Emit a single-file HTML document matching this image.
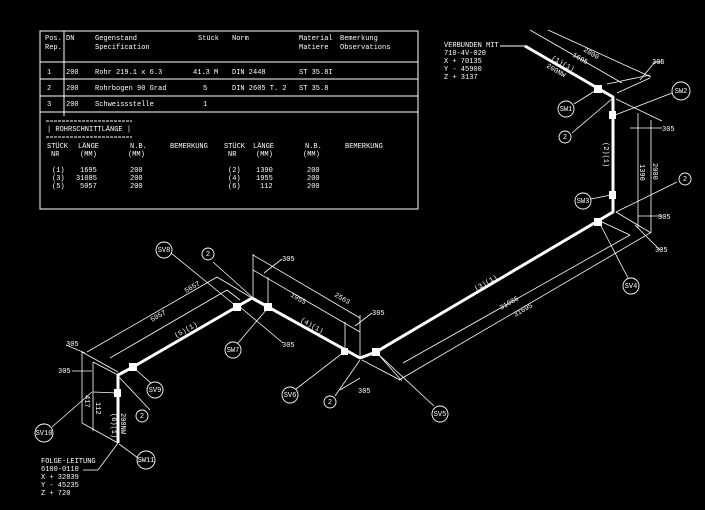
<!DOCTYPE html>
<html><head><meta charset="utf-8"><style>
html,body{margin:0;padding:0;background:#000;width:705px;height:510px;overflow:hidden}
svg{display:block}
text{font-family:"Liberation Mono",monospace;font-size:7px;fill:#fff}
</style></head><body>
<svg width="705" height="510" viewBox="0 0 705 510" xmlns="http://www.w3.org/2000/svg">
<rect width="705" height="510" fill="#000"/>
<g stroke="#fff" fill="none" stroke-width="1">
<rect x="40" y="31" width="378" height="178"/>
<line x1="40" y1="62" x2="418" y2="62"/>
<line x1="40" y1="79" x2="418" y2="79"/>
<line x1="40" y1="96" x2="418" y2="96"/>
<line x1="40" y1="112" x2="418" y2="112"/>
<line x1="64" y1="31" x2="64" y2="116"/>
<line x1="46" y1="121" x2="132" y2="121" stroke-dasharray="3,1"/>
<line x1="46" y1="137" x2="132" y2="137" stroke-dasharray="3,1"/>
</g>
<g>
<text x="45" y="40">Pos.</text><text x="45" y="49">Rep.</text>
<text x="66" y="40">DN</text>
<text x="95" y="40">Gegenstand</text><text x="95" y="49">Specification</text>
<text x="198" y="40">Stück</text>
<text x="232" y="40">Norm</text>
<text x="299" y="40">Material</text><text x="299" y="49">Matiere</text>
<text x="340" y="40">Bemerkung</text><text x="340" y="49">Observations</text>
<text x="47" y="74">1</text><text x="66" y="74">200</text><text x="95" y="74">Rohr 219.1 x 6.3</text><text x="193" y="74">41.3 M</text><text x="232" y="74">DIN 2448</text><text x="299" y="74">ST 35.8I</text>
<text x="47" y="90">2</text><text x="66" y="90">200</text><text x="95" y="90">Rohrbogen 90 Grad</text><text x="203" y="90">5</text><text x="232" y="90">DIN 2605 T. 2</text><text x="299" y="90">ST 35.8</text>
<text x="47" y="106">3</text><text x="66" y="106">200</text><text x="95" y="106">Schweissstelle</text><text x="203" y="106">1</text>
<text x="47" y="131">| ROHRSCHNITTLÄNGE |</text>
<text x="47" y="148">STÜCK</text><text x="51" y="156">NR</text>
<text x="78" y="148">LÄNGE</text><text x="80" y="156">(MM)</text>
<text x="130" y="148">N.B.</text><text x="128" y="156">(MM)</text>
<text x="170" y="148">BEMERKUNG</text>
<text x="224" y="148">STÜCK</text><text x="228" y="156">NR</text>
<text x="253" y="148">LÄNGE</text><text x="256" y="156">(MM)</text>
<text x="305" y="148">N.B.</text><text x="303" y="156">(MM)</text>
<text x="345" y="148">BEMERKUNG</text>
<text x="52" y="172">(1)</text><text x="80" y="172">1695</text><text x="130" y="172">200</text>
<text x="52" y="180">(3)</text><text x="76" y="180">31085</text><text x="130" y="180">200</text>
<text x="52" y="188">(5)</text><text x="80" y="188">5057</text><text x="130" y="188">200</text>
<text x="228" y="172">(2)</text><text x="256" y="172">1390</text><text x="307" y="172">200</text>
<text x="228" y="180">(4)</text><text x="256" y="180">1955</text><text x="307" y="180">200</text>
<text x="228" y="188">(6)</text><text x="260" y="188">112</text><text x="307" y="188">200</text>
</g>

<polyline points="525,46 613,97 613,212 376,352 360,358 252,298 133,367 118,375 118,443" stroke="#fff" stroke-width="3" fill="none" stroke-linejoin="bevel"/>
<g fill="#fff">
<rect x="594" y="85" width="8" height="8"/><rect x="609" y="111" width="7" height="8"/><rect x="609" y="191" width="7" height="8"/>
<rect x="594" y="218" width="8" height="8"/><rect x="372" y="348" width="8" height="8"/><rect x="341" y="348" width="7" height="7"/>
<rect x="264" y="303" width="8" height="8"/><rect x="233" y="303" width="8" height="8"/><rect x="129" y="363" width="8" height="8"/>
<rect x="114" y="389" width="7" height="8"/>
</g>
<line x1="500" y1="46" x2="525" y2="46" stroke="#fff"/>

<g stroke="#fff" stroke-width="0.8" fill="none">
<line x1="548" y1="30" x2="651" y2="77"/><line x1="530" y1="30" x2="622" y2="83"/>
<line x1="607" y1="84" x2="650" y2="75"/><line x1="617" y1="93" x2="650" y2="78"/>
<line x1="640" y1="80" x2="655" y2="62"/><line x1="655" y1="62" x2="662" y2="62"/>
<line x1="616" y1="99" x2="662" y2="121"/><line x1="638" y1="113" x2="638" y2="228"/><line x1="651" y1="120" x2="651" y2="233"/>
<line x1="630" y1="128" x2="662" y2="128"/><line x1="638" y1="216" x2="662" y2="216"/>
<line x1="616" y1="212" x2="651" y2="233"/><line x1="635" y1="225" x2="660" y2="250"/>
<line x1="403" y1="363" x2="630" y2="235"/><line x1="399" y1="380" x2="650" y2="233"/>
<line x1="378" y1="354" x2="402" y2="381"/><line x1="362" y1="360" x2="400" y2="380"/><line x1="602" y1="222" x2="630" y2="235"/>
<line x1="253" y1="254" x2="253" y2="298"/><line x1="268" y1="277" x2="268" y2="306"/>
<line x1="345" y1="322" x2="345" y2="352"/><line x1="360" y1="315" x2="360" y2="358"/>
<line x1="253" y1="255" x2="360" y2="318"/><line x1="253" y1="270" x2="360" y2="332"/>
<line x1="264" y1="273" x2="282" y2="259"/><line x1="355" y1="326" x2="372" y2="313"/>
<line x1="87" y1="352" x2="217" y2="277"/><line x1="110" y1="358" x2="227" y2="290"/>
<line x1="217" y1="277" x2="252" y2="298"/><line x1="227" y1="290" x2="240" y2="300"/>
<line x1="82" y1="352" x2="82" y2="423"/><line x1="93" y1="362" x2="93" y2="431"/>
<line x1="82" y1="352" x2="118" y2="372"/><line x1="93" y1="362" x2="118" y2="375"/>
<line x1="82" y1="423" x2="118" y2="443"/><line x1="93" y1="392" x2="118" y2="393"/>
<line x1="66" y1="345" x2="85" y2="353"/><line x1="72" y1="371" x2="92" y2="371"/>
<line x1="83" y1="470" x2="98" y2="470"/><line x1="98" y1="470" x2="118" y2="443"/>
<line x1="574" y1="104" x2="598" y2="89"/><line x1="572" y1="133" x2="613" y2="98"/>
<line x1="672" y1="93" x2="615" y2="115"/><line x1="677" y1="182" x2="616" y2="212"/>
<line x1="591" y1="199" x2="611" y2="195"/><line x1="628" y1="278" x2="600" y2="224"/>
<line x1="434" y1="406" x2="378" y2="354"/><line x1="335" y1="396" x2="360" y2="360"/>
<line x1="296" y1="389" x2="344" y2="352"/><line x1="238" y1="343" x2="267" y2="309"/>
<line x1="213" y1="262" x2="252" y2="297"/><line x1="171" y1="253" x2="236" y2="306"/>
<line x1="240" y1="307" x2="283" y2="343"/><line x1="150" y1="410" x2="119" y2="377"/>
<line x1="152" y1="384" x2="134" y2="368"/><line x1="52" y1="427" x2="92" y2="392"/>
<line x1="138" y1="458" x2="119" y2="444"/>
<line x1="340" y1="390" x2="360" y2="378"/>
</g>
<g stroke="#fff" fill="#000" stroke-width="0.9">
<circle cx="566" cy="109" r="8"/><circle cx="565" cy="137" r="6"/><circle cx="681" cy="91" r="9"/>
<circle cx="685" cy="179" r="6"/><circle cx="583" cy="201" r="8"/><circle cx="631" cy="286" r="8"/>
<circle cx="440" cy="414" r="8"/><circle cx="330" cy="402" r="6"/><circle cx="290" cy="395" r="8"/>
<circle cx="233" cy="350" r="8"/><circle cx="208" cy="254" r="6"/><circle cx="164" cy="250" r="8"/>
<circle cx="142" cy="416" r="6"/><circle cx="155" cy="390" r="8"/><circle cx="44" cy="433" r="9"/>
<circle cx="146" cy="460" r="9"/>
</g>
<g text-anchor="middle" style="font-size:6.5px">
<text x="566" y="111">SW1</text><text x="565" y="139">2</text><text x="681" y="93">SW2</text>
<text x="685" y="181">2</text><text x="583" y="203">SW3</text><text x="631" y="288">SV4</text>
<text x="440" y="416">SV5</text><text x="330" y="404">2</text><text x="290" y="397">SV6</text>
<text x="233" y="352">SW7</text><text x="208" y="256">2</text><text x="164" y="252">SV8</text>
<text x="142" y="418">2</text><text x="155" y="392">SV9</text><text x="44" y="435">SV10</text>
<text x="146" y="462">SW11</text>
</g>
<text x="444" y="47">VERBUNDEN MIT</text><text x="444" y="55">710-4V-020</text>
<text x="444" y="63">X + 70135</text><text x="444" y="71">Y - 45900</text><text x="444" y="79">Z + 3137</text>
<text x="41" y="463">FOLGE-LEITUNG</text><text x="41" y="471">6100-0110</text>
<text x="41" y="479">X + 32839</text><text x="41" y="487">Y - 45235</text><text x="41" y="495">Z + 720</text>
<text x="652" y="64">305</text><text x="662" y="131">305</text><text x="658" y="219">305</text><text x="655" y="252">305</text>
<text x="358" y="393">305</text><text x="282" y="261">305</text><text x="372" y="315">305</text><text x="282" y="347">305</text>
<text x="66" y="346">305</text><text x="58" y="373">305</text>
<text transform="translate(583,51) rotate(30)">2000</text>
<text transform="translate(572,56) rotate(30)">1695</text>
<text transform="translate(551,59) rotate(30)">(1)(1)</text>
<text transform="translate(546,67) rotate(30)">200NW</text>
<text transform="translate(604,142) rotate(90)">(2)(1)</text>
<text transform="translate(640,164) rotate(90)">1390</text>
<text transform="translate(653,163) rotate(90)">2000</text>
<text transform="translate(476,291) rotate(-30)">(3)(1)</text>
<text transform="translate(501,310) rotate(-30)">31085</text>
<text transform="translate(515,317) rotate(-30)">31695</text>
<text transform="translate(300,321) rotate(30)">(4)(1)</text>
<text transform="translate(290,296) rotate(30)">1955</text>
<text transform="translate(334,296) rotate(30)">2563</text>
<text transform="translate(176,338) rotate(-30)">(5)(1)</text>
<text transform="translate(152,322) rotate(-30)">5057</text>
<text transform="translate(186,293) rotate(-30)">5657</text>
<text transform="translate(112,413) rotate(90)">(6)(1)</text>
<text transform="translate(121,413) rotate(90)">200NW</text>
<text transform="translate(85,395) rotate(90)">417</text>
<text transform="translate(96,402) rotate(90)">112</text>
</svg>
</body></html>
